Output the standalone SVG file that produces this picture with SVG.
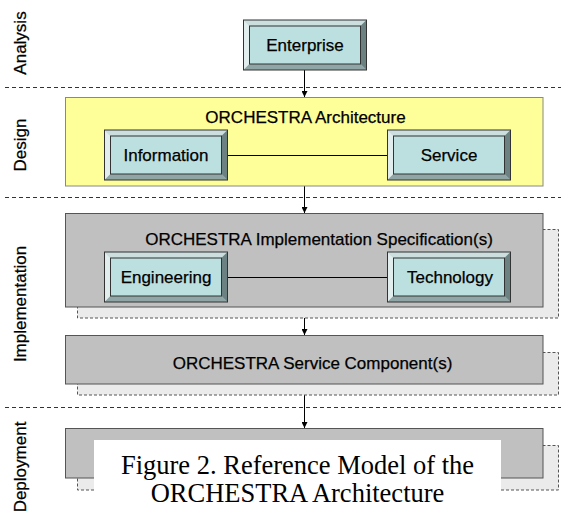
<svg xmlns="http://www.w3.org/2000/svg" xmlns:xlink="http://www.w3.org/1999/xlink" width="561" height="511" viewBox="0 0 561 511">
<style>
.lbl{font-family:"Liberation Sans",Arial,sans-serif;font-size:17px;fill:#000;text-anchor:middle;stroke:#000;stroke-width:0.25}
.sep{stroke:#333;stroke-width:1;stroke-dasharray:4,3;fill:none}
.shadow{fill:#ebebeb;stroke:#555;stroke-width:1;stroke-dasharray:3,2}
.gray{fill:#c0c0c0;stroke:#555;stroke-width:1}
.yellow{fill:#ffff99;stroke:#888;stroke-width:1}
.conn{stroke:#000;stroke-width:1;fill:none}
.cap{font-family:"Liberation Serif","Times New Roman",serif;font-size:26.5px;fill:#000;text-anchor:middle}
</style>
<defs>
<marker id="arr" markerWidth="6" markerHeight="6" refX="6" refY="3" orient="auto" markerUnits="userSpaceOnUse">
<path d="M0,0 L6,3 L0,6 Z" fill="#000"/>
</marker>
<g id="bevel">
<rect x="0" y="0" width="123" height="50" fill="#a8c0c0"/>
<polygon points="0,0 123,0 117,6 6,6" fill="#cddede"/>
<polygon points="0,0 6,6 6,44 0,50" fill="#e2eded"/>
<polygon points="123,0 123,50 117,44 117,6" fill="#6c8282"/>
<polygon points="0,50 6,44 117,44 123,50" fill="#90a6a6"/>
<rect x="6" y="6" width="111" height="38" fill="#bce0e0" stroke="#333" stroke-width="1"/>
<rect x="0" y="0" width="123" height="50" fill="none" stroke="#333" stroke-width="1"/>
</g>
</defs>
<rect x="0" y="0" width="561" height="511" fill="#fff"/>

<g id="separators">
<line class="sep" x1="5" y1="87.5" x2="561" y2="87.5"/>
<line class="sep" x1="5" y1="197.5" x2="561" y2="197.5"/>
<line class="sep" x1="5" y1="407.5" x2="561" y2="407.5"/>
</g>

<g id="phases">
<text class="lbl" transform="translate(25.5,43) rotate(-90)">Analysis</text>
<text class="lbl" transform="translate(25.5,145) rotate(-90)">Design</text>
<text class="lbl" transform="translate(25.5,304) rotate(-90)">Implementation</text>
<text class="lbl" transform="translate(25.5,467) rotate(-90)">Deployment</text>
</g>

<g id="connectors">
<line class="conn" x1="304.5" y1="70" x2="304.5" y2="97" marker-end="url(#arr)"/>
<line class="conn" x1="304.5" y1="186" x2="304.5" y2="213" marker-end="url(#arr)"/>
<line class="conn" x1="304.5" y1="307" x2="304.5" y2="335" marker-end="url(#arr)"/>
<line class="conn" x1="304.5" y1="384" x2="304.5" y2="428" marker-end="url(#arr)"/>
</g>

<g id="enterprise">
<use xlink:href="#bevel" href="#bevel" x="243.5" y="20"/>
<text class="lbl" x="305" y="51">Enterprise</text>
</g>

<g id="architecture">
<rect class="yellow" x="65.5" y="97.5" width="477.5" height="88.5"/>
<text class="lbl" x="305.5" y="123">ORCHESTRA Architecture</text>
<line class="conn" x1="227.5" y1="155.5" x2="387.5" y2="155.5"/>
<g id="information">
<use xlink:href="#bevel" href="#bevel" x="104.5" y="130"/>
<text class="lbl" x="166" y="161">Information</text>
</g>
<g id="service">
<use xlink:href="#bevel" href="#bevel" x="387.5" y="130"/>
<text class="lbl" x="449" y="161">Service</text>
</g>
</g>

<g id="implementation-spec">
<rect class="shadow" x="77.5" y="229.5" width="481" height="88.5"/>
<rect class="gray" x="65.5" y="213.5" width="477.5" height="93.5"/>
<text class="lbl" x="319" y="245">ORCHESTRA Implementation Specification(s)</text>
<line class="conn" x1="227.5" y1="277.5" x2="387.5" y2="277.5"/>
<g id="engineering">
<use xlink:href="#bevel" href="#bevel" x="104.5" y="252"/>
<text class="lbl" x="166" y="283">Engineering</text>
</g>
<g id="technology">
<use xlink:href="#bevel" href="#bevel" x="387.5" y="252"/>
<text class="lbl" x="450" y="283">Technology</text>
</g>
</g>

<g id="service-component">
<rect class="shadow" x="77.5" y="352.5" width="481" height="42.5"/>
<rect class="gray" x="65.5" y="335.5" width="477.5" height="48.5"/>
<text class="lbl" x="312.5" y="369">ORCHESTRA Service Component(s)</text>
</g>

<g id="deployment">
<rect class="shadow" x="77.5" y="445.5" width="481" height="44.5"/>
<rect class="gray" x="65.5" y="428.5" width="477.5" height="49.5"/>
</g>

<g id="caption">
<rect x="94" y="440" width="407" height="71" fill="#fff"/>
<text class="cap" x="297.5" y="474">Figure 2. Reference Model of the</text>
<text class="cap" x="297.5" y="502">ORCHESTRA Architecture</text>
</g>
</svg>
